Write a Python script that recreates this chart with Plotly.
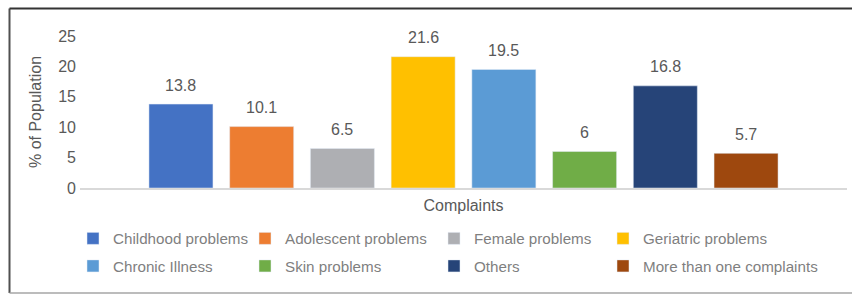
import plotly.graph_objects as go

categories = ["Complaints"]
series_names = ["Childhood problems", "Adolescent problems", "Female problems",
                "Geriatric problems", "Chronic Illness", "Skin problems",
                "Others", "More than one complaints"]
series_values = [13.8, 10.1, 6.5, 21.6, 19.5, 6, 16.8, 5.7]
colors = ["#4472C4", "#ED7D31", "#AEAFB3", "#FFC000", "#5B9BD5", "#70AD47",
          "#264478", "#9E480E"]
y_ticks = [0, 5, 10, 15, 20, 25]

FONT = "Liberation Sans, Arial, sans-serif"
W, H = 852, 295
ML, MR, MT, MB = 80, 5, 36, 107
PW = W - ML - MR
PH = H - MT - MB
BARGAP = 0.158
N = len(series_names)
slot_px = PW * (1 - BARGAP) / N

def px_x(p):
    return (p - ML) / PW

def px_y(p):
    return (H - MB - p) / PH

# legend layout: 4 columns x 2 rows (legend box left edge / row centre, px)
legend_cols_px = [73, 245, 434, 603]
legend_rows_px = [238.5, 266]

fig = go.Figure()
layout_legends = {}
for i, (name, val, col) in enumerate(zip(series_names, series_values, colors)):
    lname = "legend" if i == 0 else f"legend{i+1}"
    fig.add_trace(go.Bar(
        x=categories, y=[val], name=name, marker_color=col,
        legend=lname, hoverinfo="skip",
    ))
    layout_legends[lname] = dict(
        x=px_x(legend_cols_px[i % 4]), y=px_y(legend_rows_px[i // 4]),
        xanchor="left", yanchor="middle", orientation="v",
        font=dict(family=FONT, size=15.2, color="#7F7F7F"),
        bgcolor="rgba(0,0,0,0)", borderwidth=0,
    )
    fig.add_annotation(
        x=categories[0], y=val, xref="x", yref="y",
        xshift=(i - (N - 1) / 2) * slot_px, yshift=19,
        text=str(val), showarrow=False, yanchor="middle",
        font=dict(family=FONT, size=16, color="#595959"),
    )

shapes = [
    dict(type="line", xref="paper", yref="paper",
         x0=px_x(9.5), x1=px_x(9.5), y0=px_y(293), y1=px_y(8.5),
         line=dict(color="#505050", width=2)),
    dict(type="line", xref="paper", yref="paper",
         x0=px_x(9.5), x1=px_x(860), y0=px_y(8.5), y1=px_y(8.5),
         line=dict(color="#333333", width=2)),
    dict(type="line", xref="paper", yref="paper",
         x0=px_x(9.5), x1=px_x(860), y0=px_y(293), y1=px_y(293),
         line=dict(color="#A6A6A6", width=1.5)),
]

fig.update_layout(
    width=W, height=H,
    margin=dict(l=ML, r=MR, t=MT, b=MB, autoexpand=False),
    paper_bgcolor="white", plot_bgcolor="white",
    barmode="group", bargap=BARGAP, bargroupgap=0.207,
    font=dict(family=FONT, size=16, color="#595959"),
    showlegend=True,
    shapes=shapes,
    xaxis=dict(
        showline=True, linecolor="#D9D9D9", linewidth=2,
        showgrid=False, zeroline=False, ticks="", ticklabelstandoff=2,
        tickfont=dict(family=FONT, size=16, color="#595959"),
    ),
    yaxis=dict(
        range=[0, 25], tickvals=y_ticks, showgrid=False, zeroline=False,
        showline=False, ticks="", ticklabelstandoff=3,
        tickfont=dict(family=FONT, size=16, color="#595959"),
        title=dict(text="% of Population", standoff=12,
                   font=dict(family=FONT, size=16, color="#595959")),
    ),
    **layout_legends,
)

fig.write_html("out.html", config={"displayModeBar": False},
               post_script="document.body.style.margin='0px';")
